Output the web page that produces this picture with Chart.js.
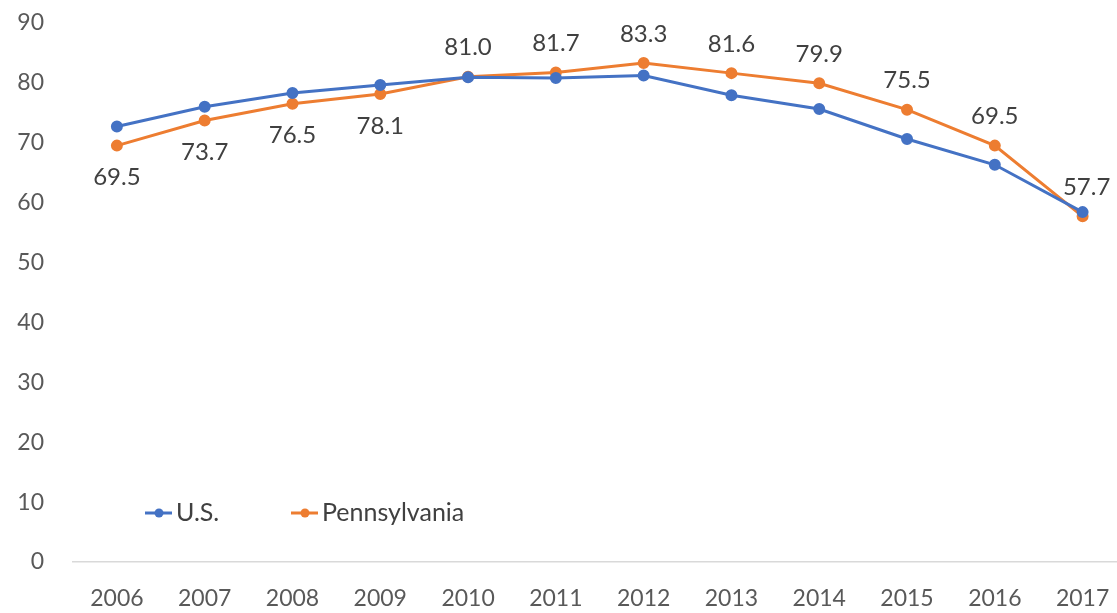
<!DOCTYPE html>
<html>
<head>
<meta charset="utf-8">
<script src="https://cdn.jsdelivr.net/npm/chart.js@4"></script>
<style>
  html, body { margin: 0; padding: 0; background: #fff; overflow: hidden; }
  #wrap { position: relative; width: 1134px; height: 633px; margin-top: -20px; }
</style>
</head>
<body>
<div id="wrap"><canvas id="chart"></canvas></div>
<script>
const years = ["2006", "2007", "2008", "2009", "2010", "2011", "2012", "2013", "2014", "2015", "2016", "2017"];
const usValues = [72.7, 76.0, 78.3, 79.6, 80.9, 80.8, 81.2, 77.9, 75.6, 70.6, 66.3, 58.4];
const paValues = [69.5, 73.7, 76.5, 78.1, 81.0, 81.7, 83.3, 81.6, 79.9, 75.5, 69.5, 57.7];
const yTicks = [0, 10, 20, 30, 40, 50, 60, 70, 80, 90];

const BLUE = "#4472C4";
const ORANGE = "#ED7D31";
const FONT = "Lato, 'Open Sans', sans-serif";

// labels on the Pennsylvania points: first four sit under the point, the rest above
const pointLabels = {
  id: "pointLabels",
  afterDatasetsDraw(chart) {
    const meta = chart.getDatasetMeta(1);
    const data = chart.data.datasets[1].data;
    const ctx = chart.ctx;
    ctx.save();
    ctx.font = "24px " + FONT;
    ctx.fillStyle = "#404040";
    ctx.textAlign = "center";
    ctx.textBaseline = "middle";
    meta.data.forEach((pt, i) => {
      const below = i < 4;
      const dx = i === data.length - 1 ? 4 : 0;
      ctx.fillText(data[i].toFixed(1), pt.x + dx, pt.y + (below ? 32 : -29));
    });
    ctx.restore();
  }
};

// excel-style legend sitting inside the plot, near the bottom left
const innerLegend = {
  id: "innerLegend",
  afterDraw(chart) {
    const ctx = chart.ctx;
    const y = chart.scales.y.getPixelForValue(0) - 49;
    const starts = [145, 291];
    ctx.save();
    ctx.font = "25px " + FONT;
    ctx.textBaseline = "middle";
    chart.data.datasets.forEach((ds, i) => {
      const x = starts[i];
      ctx.strokeStyle = ds.borderColor;
      ctx.lineWidth = 3;
      ctx.beginPath();
      ctx.moveTo(x, y);
      ctx.lineTo(x + 27, y);
      ctx.stroke();
      ctx.fillStyle = ds.borderColor;
      ctx.beginPath();
      ctx.arc(x + 14, y, 4.5, 0, Math.PI * 2);
      ctx.fill();
      ctx.fillStyle = "#404040";
      ctx.textAlign = "left";
      ctx.fillText(ds.label, x + 31, y);
    });
    ctx.restore();
  }
};

new Chart(document.getElementById("chart"), {
  type: "line",
  data: {
    labels: years,
    datasets: [
      {
        label: "U.S.",
        data: usValues,
        borderColor: BLUE,
        backgroundColor: BLUE,
        pointBackgroundColor: BLUE,
        pointBorderColor: BLUE,
        borderWidth: 3,
        pointRadius: 4.5,
        tension: 0
      },
      {
        label: "Pennsylvania",
        data: paValues,
        borderColor: ORANGE,
        backgroundColor: ORANGE,
        pointBackgroundColor: ORANGE,
        pointBorderColor: ORANGE,
        borderWidth: 3,
        pointRadius: 4.5,
        tension: 0
      }
    ]
  },
  options: {
    responsive: true,
    maintainAspectRatio: false,
    animation: false,
    layout: { padding: { top: 0, right: 1, bottom: 0, left: 0 } },
    scales: {
      x: {
        offset: true,
        afterFit(scale) { scale.height = 51; },
        grid: { display: false, drawTicks: false },
        border: { display: true, color: "#d9d9d9", width: 1.5 },
        ticks: {
          color: "#595959",
          padding: 23,
          maxRotation: 0,
          font: { size: 23, family: FONT }
        }
      },
      y: {
        min: 0,
        max: 90,
        afterFit(scale) { scale.width = 73; },
        afterBuildTicks(scale) { scale.ticks = yTicks.map((v) => ({ value: v })); },
        grid: { display: false, drawTicks: false },
        border: { display: false },
        ticks: {
          color: "#595959",
          padding: 29,
          font: { size: 23, family: FONT }
        }
      }
    },
    plugins: {
      legend: { display: false },
      tooltip: { enabled: false }
    }
  },
  plugins: [pointLabels, innerLegend]
});
</script>
</body>
</html>
